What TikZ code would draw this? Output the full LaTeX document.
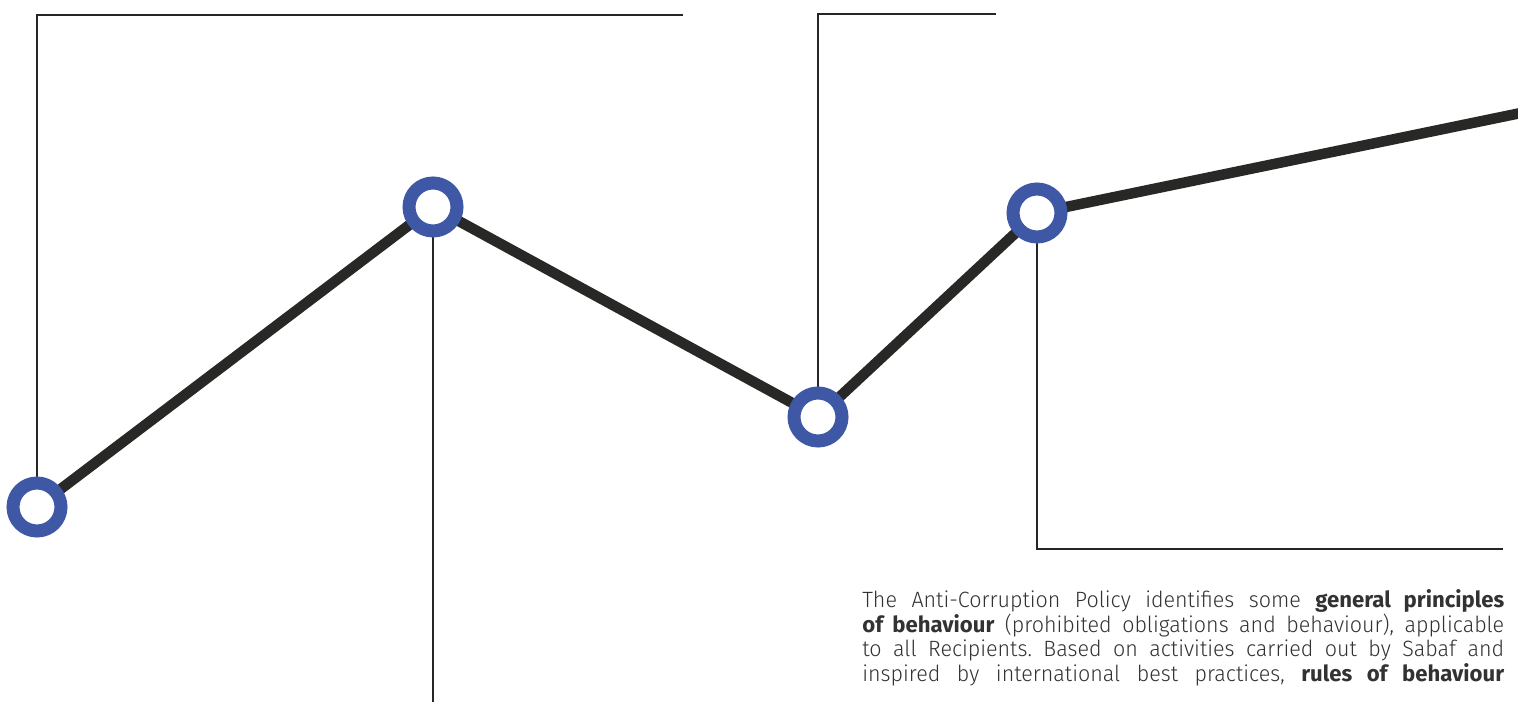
\documentclass[tikz,border=0pt]{standalone}
\usepackage{fontspec}
\setmainfont[UprightFeatures={FakeStretch=0.97}, BoldFont={Fira Sans Bold}]{Fira Sans Light}
\usepackage{xcolor}

\definecolor{ringblue}{RGB}{63,88,166}
\definecolor{pathgray}{RGB}{40,40,38}
\definecolor{textgray}{RGB}{50,50,50}

\newcommand{\fullline}[1]{\makebox[12.84cm][s]{#1}}

\begin{document}
\begin{tikzpicture}[x=0.02cm, y=-0.02cm, every node/.style={font=\small}]
  \useasboundingbox (0,0) rectangle (1518,702);
  \clip (0,0) rectangle (1518,702);
  \tikzset{
    ring/.style={circle, draw=ringblue, fill=white, line width=0.26cm,
      minimum size=0.96cm, inner sep=0pt},
    leader/.style={line width=0.6pt, black!85}
  }
  \coordinate (s1) at (37,507);
  \coordinate (s2) at (433,207);
  \coordinate (s3) at (818,417);
  \coordinate (s4) at (1037,213);
  \coordinate (send) at (1545,108);
  % thin leaders
  \coordinate (l1) at (683,15);
  \coordinate (l2) at (433,702);
  \coordinate (l3) at (996,14);
  \coordinate (l4) at (1503,549);
  \draw[leader] (s1) |- (l1);
  \draw[leader] (s2) -- (l2);
  \draw[leader] (s3) |- (l3);
  \draw[leader] (s4) |- (l4);
  % main path
  \draw[line width=0.21cm, pathgray] (s1)--(s2)--(s3)--(s4)--(send);
  \foreach \s in {1,...,4}
    \node[ring] (r\s) at (s\s) {};
  \node[anchor=north west, inner sep=0pt, align=left, text=textgray,
    font=\fontsize{12.6pt}{14.1pt}\selectfont\frenchspacing] (policy) at (862,589)
    {\fullline{The Anti-Corruption Policy identifies some \textbf{general principles}}\\
     \fullline{\textbf{of behaviour} (prohibited obligations and behaviour), applicable}\\
     \fullline{to all Recipients. Based on activities carried out by Sabaf and}\\
     \fullline{inspired by international best practices, \textbf{rules of behaviour}}};
\end{tikzpicture}
\end{document}
